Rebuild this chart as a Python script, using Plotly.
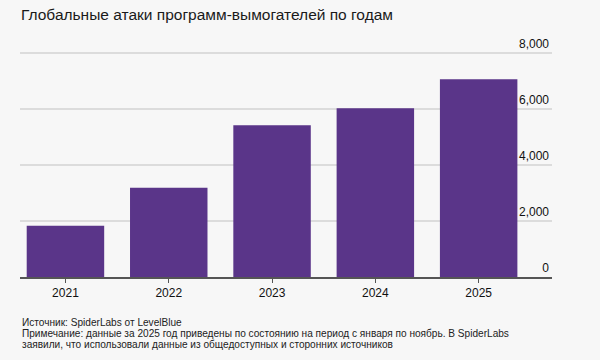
import plotly.graph_objects as go

years = ["2021", "2022", "2023", "2024", "2025"]
attacks = [1830, 3190, 5420, 6030, 7060]
ytick_vals = [0, 2000, 4000, 6000, 8000]
ytick_text = ["0", "2,000", "4,000", "6,000", "8,000"]

title = "Глобальные атаки программ-вымогателей по годам"
notes = [
    "Источник: SpiderLabs от LevelBlue",
    "Примечание: данные за 2025 год приведены по состоянию на период с января по ноябрь. В SpiderLabs",
    "заявили, что использовали данные из общедоступных и сторонних источников",
]

BG = "#f7f7f7"
FONT = "Liberation Sans, Arial, sans-serif"
W, H = 600, 360
ML, MR, MT, MB = 20, 48, 30, 83
plot_h = H - MT - MB
plot_w = W - ML - MR
# 8000 gridline sits at y=53 px; extend range so the top label is not hidden
ymax = 8000 * (H - MB - MT) / (H - MB - 53)


def px(xp):
    return (xp - ML) / plot_w


def py(yp):
    return (H - MB - yp) / plot_h


ann = [dict(text=title, x=px(19), y=py(14), xref="paper", yref="paper",
            xanchor="left", yanchor="middle", showarrow=False,
            font=dict(size=15.5, color="#1a1a1a", family=FONT))]
for i, line in enumerate(notes):
    ann.append(dict(text=line, x=px(19.5), y=py(322 + i * 11.3), xref="paper", yref="paper",
                    xanchor="left", yanchor="middle", showarrow=False,
                    font=dict(size=10.1, color="#222", family=FONT)))

fig = go.Figure()
fig.add_trace(go.Bar(x=years, y=attacks, marker=dict(color="#5a3589", line=dict(width=0)),
                     width=0.75, hoverinfo="skip"))

fig.update_layout(
    width=W, height=H,
    paper_bgcolor=BG, plot_bgcolor=BG,
    margin=dict(l=ML, r=MR, t=MT, b=MB, autoexpand=False),
    showlegend=False,
    font=dict(family=FONT, color="#111"),
    xaxis=dict(
        type="category", range=[-0.44, 4.71], automargin=False,
        showline=True, linecolor="#555", linewidth=1.5,
        ticks="outside", ticklen=4, tickcolor="#555", tickwidth=1,
        tickfont=dict(size=12, color="#111"), showgrid=False,
        fixedrange=True,
    ),
    yaxis=dict(
        range=[0, ymax], side="right", automargin=False,
        tickvals=ytick_vals, ticktext=ytick_text,
        ticklabelposition="inside", ticklabelshift=-9,
        tickfont=dict(size=12, color="#111"),
        showgrid=True, gridcolor="#dcdcdc", gridwidth=1.5,
        zeroline=False, showline=False, ticks="",
        fixedrange=True,
    ),
    annotations=ann,
)

fig.write_html(
    "out.html",
    config={"displayModeBar": False, "staticPlot": True},
    post_script="document.body.style.margin='0';document.body.style.background='%s';" % BG,
)
